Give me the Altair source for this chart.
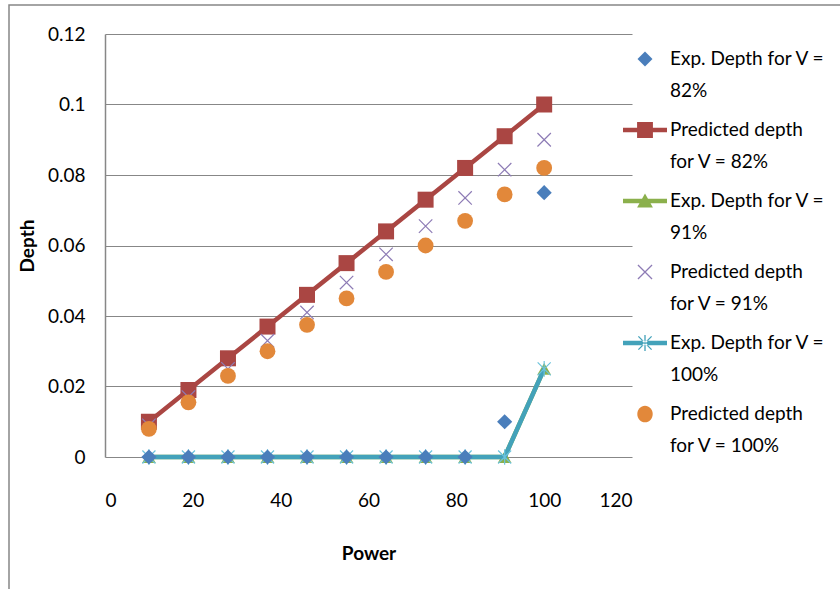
import altair as alt
import pandas as pd

# Power settings (x) and measured / predicted depths (y)
power = [10, 19, 28, 37, 46, 55, 64, 73, 82, 91, 100]

exp_82 = [0, 0, 0, 0, 0, 0, 0, 0, 0, 0.010, 0.075]
pred_82 = [0.010, 0.019, 0.028, 0.037, 0.046, 0.055, 0.064, 0.073, 0.082, 0.091, 0.100]
exp_91 = [0, 0, 0, 0, 0, 0, 0, 0, 0, 0, 0.025]
pred_91 = [0.009, 0.017, 0.025, 0.033, 0.041, 0.0495, 0.0575, 0.0655, 0.0735, 0.0815, 0.090]
exp_100 = [0, 0, 0, 0, 0, 0, 0, 0, 0, 0, 0.025]
pred_100 = [0.008, 0.0155, 0.023, 0.030, 0.0375, 0.045, 0.0525, 0.060, 0.067, 0.0745, 0.082]

series_names = [
    "Exp. Depth for V =\n82%",
    "Predicted depth\nfor V = 82%",
    "Exp. Depth for V =\n91%",
    "Predicted depth\nfor V = 91%",
    "Exp. Depth for V =\n100%",
    "Predicted depth\nfor V = 100%",
]
series_values = [exp_82, pred_82, exp_91, pred_91, exp_100, pred_100]
series_colors = ["#4A7EBB", "#AA4643", "#8BB04C", "#8D7BB5", "#43A2BA", "#E2883A"]

FONT = "Lato"
GRID = "#878787"

frames = {
    name: pd.DataFrame({"power": power, "depth": vals, "series": name})
    for name, vals in zip(series_names, series_values)
}

x_enc = alt.X(
    "power:Q",
    scale=alt.Scale(domain=[0, 120], nice=False),
    axis=alt.Axis(
        title="Power", values=[0, 20, 40, 60, 80, 100, 120], grid=False, ticks=False,
        domain=False, labelPadding=34, titlePadding=34,
    ),
)
y_enc = alt.Y(
    "depth:Q",
    scale=alt.Scale(domain=[0, 0.12], nice=False),
    axis=alt.Axis(
        title="Depth", values=[0, 0.02, 0.04, 0.06, 0.08, 0.1, 0.12], format=".2~f",
        grid=True, ticks=False, domain=True, labelPadding=20, titlePadding=10,
    ),
)

# outline paths for marker shapes that Excel draws as strokes
X_PATH = "M-1,-1L1,1M-1,1L1,-1"
STAR_PATH = "M-1,-1L1,1M-1,1L1,-1M0,-1.2L0,1.2"


def line_layer(name, color, width):
    return alt.Chart(frames[name]).mark_line(color=color, strokeWidth=width).encode(x=x_enc, y=y_enc)


def point_layer(name, color, shape, size, filled=True, stroke_width=0):
    if filled:
        mark = alt.MarkDef(type="point", shape=shape, size=size, opacity=1, filled=True,
                           fill=color, strokeWidth=0)
    else:
        mark = alt.MarkDef(type="point", shape=shape, size=size, opacity=1, filled=False,
                           stroke=color, strokeWidth=stroke_width)
    return alt.Chart(frames[name], mark=mark).encode(x=x_enc, y=y_enc)


n = series_names
c = series_colors
layers = [
    line_layer(n[1], c[1], 4.5),
    point_layer(n[1], c[1], "square", 256),
    line_layer(n[2], c[2], 4.5),
    point_layer(n[2], c[2], "triangle-up", 190),
    line_layer(n[4], c[4], 4.5),
    point_layer(n[4], "#6CC3DC", STAR_PATH, 170, filled=False, stroke_width=1.2),
    point_layer(n[0], c[0], "diamond", 230),
    point_layer(n[3], c[3], X_PATH, 180, filled=False, stroke_width=1.2),
    point_layer(n[5], c[5], "circle", 250),
]


# Legend glyphs: line segments plus markers, drawn as filled paths (1 unit = 22 px)
def rect(x0, y0, x1, y1):
    return f"M{x0},{y0}H{x1}V{y1}H{x0}Z"


def bar(ax, ay, bx, by, t):
    # thin filled bar from (ax, ay) to (bx, by), half thickness t
    dx, dy = bx - ax, by - ay
    ln = (dx * dx + dy * dy) ** 0.5
    nx, ny = -dy / ln * t, dx / ln * t
    pts = [(ax + nx, ay + ny), (bx + nx, by + ny), (bx - nx, by - ny), (ax - nx, ay - ny)]
    return "M" + "L".join(f"{px:.3f},{py:.3f}" for px, py in pts) + "Z"


legend_line = rect(-1, -0.1, 1, 0.1)
legend_shapes = [
    "M0,-0.34L0.34,0L0,0.34L-0.34,0Z",
    legend_line + rect(-0.36, -0.36, 0.36, 0.36),
    legend_line + "M0,-0.34L0.36,0.3L-0.36,0.3Z",
    bar(-0.32, -0.32, 0.32, 0.32, 0.03) + bar(-0.32, 0.32, 0.32, -0.32, 0.03),
    legend_line + bar(0, -0.36, 0, 0.36, 0.03) + bar(-0.3, -0.3, 0.3, 0.3, 0.03)
    + bar(-0.3, 0.3, 0.3, -0.3, 0.03),
    "M-0.35,0A0.35,0.38,0,1,1,0.35,0A0.35,0.38,0,1,1,-0.35,0Z",
]

legend_layer = (
    alt.Chart(pd.DataFrame({"series": series_names}))
    .mark_point(filled=True, opacity=1, size=10)
    .encode(
        color=alt.Color(
            "series:N",
            scale=alt.Scale(domain=series_names, range=series_colors),
            legend=alt.Legend(
                title=None, orient="none", legendX=518, legendY=3,
                symbolSize=1936, symbolStrokeWidth=0, symbolOpacity=1,
                labelFont=FONT, labelFontSize=19, labelColor="#000000",
                labelExpr="split(datum.label, '\\n')", labelLimit=400,
                labelOffset=3, rowPadding=7, padding=0,
            ),
        ),
        shape=alt.Shape("series:N", scale=alt.Scale(domain=series_names, range=legend_shapes), legend=None),
    )
    .transform_filter("false")
)

# outer chart frame
frame = alt.Chart(pd.DataFrame({"k": [0]})).mark_rect(
    fill="transparent", stroke="#878787", strokeWidth=1.5, clip=False
).encode(
    x=alt.value(-96), x2=alt.value(760), y=alt.value(-29), y2=alt.value(600)
)

chart = (
    alt.layer(frame, *layers, legend_layer)
    .properties(
        width=527, height=423,
        padding={"left": 105, "top": 34, "right": 208, "bottom": 132},
        autosize=alt.AutoSizeParams(type="none"),
        background="white",
    )
    .configure(style={"guide-label": {"lineHeight": 32}})
    .configure_view(stroke=None)
    .configure_axis(
        labelFont=FONT, labelFontSize=19, labelColor="#000000",
        titleFont=FONT, titleFontSize=19, titleFontWeight="bold", titleColor="#000000",
        gridColor=GRID, gridWidth=1, domainColor=GRID, domainWidth=1.5,
    )
)

chart.save("out.html", embed_options={"renderer": "svg", "actions": False})
